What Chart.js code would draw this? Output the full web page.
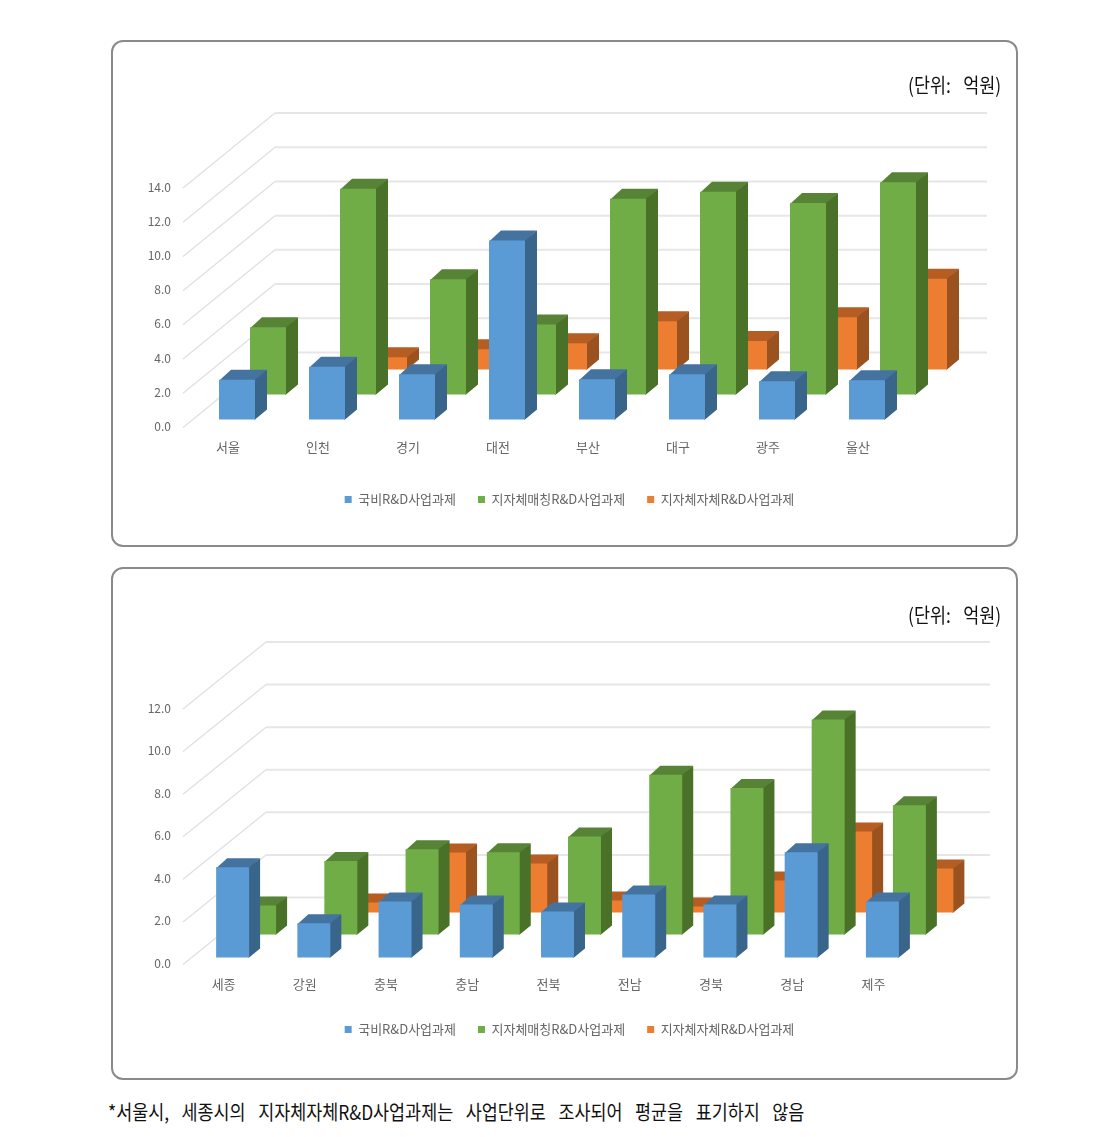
<!DOCTYPE html>
<html>
<head>
<meta charset="utf-8">
<script src="https://cdn.jsdelivr.net/npm/chart.js@4"></script>
<style>
  body { margin:0; background:#fff; font-family:"Noto Sans CJK KR"; }
  .box { position:absolute; left:111px; width:903px; border:2px solid #8a8a8a; border-radius:12px; box-sizing:content-box; }
  canvas { position:absolute; left:112px; }
  .note { position:absolute; white-space:nowrap; color:#111; transform-origin:left center; transform:scaleX(.87); font-size:20px; line-height:24px; }
</style>
</head>
<body>
<div class="box" style="top:40px;height:503px"></div>
<div class="box" style="top:567px;height:509px"></div>
<canvas id="chart_top" width="915" height="474" style="top:42px"></canvas>
<canvas id="chart_bottom" width="915" height="477" style="top:569px"></canvas>
<div class="note" style="left:908px;top:73px;word-spacing:10px">(단위: 억원)</div>
<div class="note" style="left:908px;top:603px;word-spacing:10px">(단위: 억원)</div>
<div class="note" style="left:108px;top:1100px;word-spacing:10px">*서울시, 세종시의 지자체자체R&amp;D사업과제는 사업단위로 조사되어 평균을 표기하지 않음</div>

<script>
//----------DATOS
const series_names = ['국비R&D사업과제', '지자체매칭R&D사업과제', '지자체자체R&D사업과제']

const regiones_top = ['서울', '인천', '경기', '대전', '부산', '대구', '광주', '울산']
const national_top = [2.33, 3.08, 2.65, 10.47, 2.35, 2.65, 2.23, 2.3]
const matching_top = [3.93, 12.03, 6.73, 4.09, 11.44, 11.85, 11.2, 12.4]
const local_top = [null, 0.72, 1.18, 1.53, 2.82, 1.66, 3.06, 5.31]

const regiones_bottom = ['세종', '강원', '충북', '충남', '전북', '전남', '경북', '경남', '제주']
const national_bottom = [4.24, 1.61, 2.63, 2.49, 2.16, 2.96, 2.49, 4.94, 2.63]
const matching_bottom = [1.36, 3.45, 4.0, 3.86, 4.6, 7.5, 6.88, 10.1, 6.07]
const local_bottom = [null, 0.47, 2.82, 2.3, 0.56, 0.28, 1.5, 3.8, 2.07]

const face_colors = ['#5B9BD5', '#70AD47', '#ED7D31']
const top_colors = ['#4473A0', '#568335', '#B55D22']
const side_colors = ['#39658B', '#4A7128', '#9A521F']
const label_color = '#666666'
const label_font = { family: '"Noto Sans CJK KR"', size: 13 }

// walls and the side/top faces, bars themselves stay native bars moved with translate
function depth_plugin(cfg) {
  return {
    id: 'depth3d',
    beforeDatasetsDraw(chart) {
      let ctx = chart.ctx
      let area = chart.chartArea
      ctx.save()
      chart.scales.y.ticks.forEach(t => {
        let y = chart.scales.y.getPixelForValue(t.value)
        ctx.strokeStyle = '#E0E0E0'
        ctx.lineWidth = 1.3
        ctx.beginPath()
        ctx.moveTo(area.left, y)
        ctx.lineTo(area.left + cfg.wall_x, y - cfg.wall_y)
        ctx.stroke()
        ctx.strokeStyle = '#E6E6E6'
        ctx.lineWidth = 2
        ctx.beginPath()
        ctx.moveTo(area.left + cfg.wall_x, y - cfg.wall_y)
        ctx.lineTo(cfg.wall_end, y - cfg.wall_y)
        ctx.stroke()
      })
      ctx.restore()
    },
    beforeDatasetDraw(chart, args) {
      let ctx = chart.ctx
      let i = args.index
      ctx.save()
      ctx.translate(cfg.shift_x[i], cfg.shift_y[i])
      args.meta.data.forEach((bar, j) => {
        if (chart.data.datasets[i].data[j] === null) return
        let r = bar.x + bar.width / 2
        let l = bar.x - bar.width / 2
        ctx.fillStyle = top_colors[i]
        ctx.beginPath()
        ctx.moveTo(l, bar.y + 1)
        ctx.lineTo(l + cfg.side_x, bar.y - cfg.side_y)
        ctx.lineTo(r + cfg.side_x, bar.y - cfg.side_y)
        ctx.lineTo(r, bar.y + 1)
        ctx.fill()
        ctx.fillStyle = side_colors[i]
        ctx.beginPath()
        ctx.moveTo(r - 1, bar.y)
        ctx.lineTo(r, bar.y)
        ctx.lineTo(r + cfg.side_x, bar.y - cfg.side_y)
        ctx.lineTo(r + cfg.side_x, bar.base - cfg.side_y)
        ctx.lineTo(r, bar.base)
        ctx.lineTo(r - 1, bar.base)
        ctx.fill()
      })
    },
    afterDatasetDraw(chart) {
      chart.ctx.restore()
    }
  }
}

function make_chart(id, labels, values, max, cfg) {
  return new Chart(document.getElementById(id), {
    type: 'bar',
    data: {
      labels: labels,
      datasets: values.map((v, i) => ({
        label: series_names[i],
        data: v,
        backgroundColor: face_colors[i],
        clip: false
      }))
    },
    options: {
      responsive: false,
      animation: false,
      datasets: { bar: { grouped: false, categoryPercentage: cfg.bar_share, barPercentage: 1 } },
      layout: { padding: { top: cfg.pad_top } },
      plugins: {
        tooltip: { enabled: false },
        legend: {
          position: 'bottom',
          labels: { boxWidth: 7, boxHeight: 7, padding: 22, color: label_color, font: label_font }
        }
      },
      scales: {
        x: {
          grid: { display: false },
          border: { display: false },
          ticks: { color: label_color, font: label_font, padding: 4, maxRotation: 0, autoSkip: false },
          afterFit: s => { s.height = cfg.x_height }
        },
        y: {
          min: 0,
          max: max,
          grid: { display: false, drawTicks: false },
          border: { display: false },
          ticks: {
            stepSize: 2,
            color: label_color,
            font: { family: label_font.family, size: 12 },
            padding: 12,
            labelOffset: -1,
            callback: v => v.toFixed(1)
          },
          afterFit: s => { s.width = 71 }
        },
        // empty right axis only to leave room for the back wall
        y_room: {
          position: 'right',
          grid: { display: false, drawTicks: false },
          border: { display: false },
          ticks: { display: false },
          afterFit: s => { s.width = cfg.right_room }
        }
      }
    },
    plugins: [depth_plugin(cfg)]
  })
}

make_chart('chart_top', regiones_top, [national_top, matching_top, local_top], 14, {
  bar_share: 0.4, pad_top: 146, x_height: 43.5, right_room: 124,
  wall_x: 92, wall_y: 75, wall_end: 875,
  shift_x: [9, 40, 71], shift_y: [-8, -33, -58], side_x: 12, side_y: 10
})

make_chart('chart_bottom', regiones_bottom, [national_bottom, matching_bottom, local_bottom], 12, {
  bar_share: 0.406, pad_top: 140, x_height: 36.5, right_room: 113,
  wall_x: 83, wall_y: 67, wall_end: 878,
  shift_x: [9, 36, 63.5], shift_y: [-7, -30, -52], side_x: 11, side_y: 9
})
</script>
</body>
</html>
